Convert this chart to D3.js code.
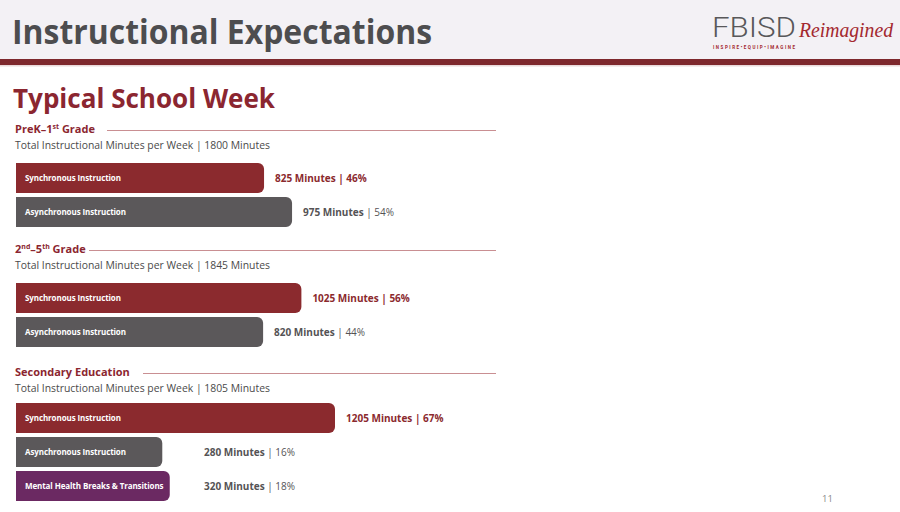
<!DOCTYPE html>
<html>
<head>
<meta charset="utf-8">
<script src="https://cdn.jsdelivr.net/npm/d3@7"></script>
<style>
  html, body { margin: 0; padding: 0; background: #fff; }
  svg { display: block; }
</style>
</head>
<body>
<svg id="slide" width="900" height="512"></svg>
<script>
// Chart data
const groupHeadings = [
  [['PreK–1', ''], ['st', 'sup'], [' Grade', '']],
  [['2', ''], ['nd', 'sup'], ['–5', ''], ['th', 'sup'], [' Grade', '']],
  [['Secondary Education', '']]
];
const groupTotals = [1800, 1845, 1805];
const categories = ['Synchronous Instruction', 'Asynchronous Instruction', 'Mental Health Breaks & Transitions'];
const minutes = [
  [825, 975],
  [1025, 820],
  [1205, 280, 320]
];
const percents = [
  [46, 54],
  [56, 44],
  [67, 16, 18]
];

// Layout
const red = '#8b2a2e';
const grey = '#5b585a';
const purple = '#6b2962';
const barColors = [red, grey, purple];
const valueColors = [red, '#555355', '#555355'];
const groupTop = [133, 253, 376];      // heading baseline
const barsTop = [163, 283, 403];
const headingLineStart = [107, 89, 143];
const valueMinX = [0, 0, 204];

const svg = d3.select('#slide');

// Header band
svg.append('rect').attr('x', 0).attr('y', 0).attr('width', 900).attr('height', 59).attr('fill', '#f3f1f5');
svg.append('rect').attr('x', 0).attr('y', 59).attr('width', 900).attr('height', 6).attr('fill', '#7e282d');
svg.append('rect').attr('x', 0).attr('y', 65).attr('width', 900).attr('height', 1.5).attr('fill', '#e9d9da');

svg.append('text')
  .attr('x', 12).attr('y', 44)
  .attr('font-family', 'Open Sans').attr('font-weight', 700).attr('font-size', 34)
  .attr('textLength', 420).attr('lengthAdjust', 'spacingAndGlyphs')
  .attr('fill', '#4d4d4f')
  .text('Instructional Expectations');

// Logo
const logo = svg.append('g');
logo.append('text')
  .attr('x', 712).attr('y', 37)
  .attr('font-family', 'Roboto').attr('font-weight', 300).attr('font-size', 27)
  .attr('textLength', 84).attr('lengthAdjust', 'spacingAndGlyphs')
  .attr('fill', '#58585a')
  .text('FBISD');
logo.append('text')
  .attr('x', 799).attr('y', 37)
  .attr('font-family', 'Liberation Serif').attr('font-style', 'italic').attr('font-size', 21)
  .attr('textLength', 94).attr('lengthAdjust', 'spacingAndGlyphs')
  .attr('fill', '#a3282f')
  .text('Reimagined');
logo.append('text')
  .attr('x', 713).attr('y', 49)
  .attr('font-family', 'Roboto').attr('font-weight', 700).attr('font-size', 4.5)
  .attr('textLength', 82).attr('lengthAdjust', 'spacing')
  .attr('fill', '#a3282f')
  .text('INSPIRE•EQUIP•IMAGINE');

svg.append('text')
  .attr('x', 13).attr('y', 108)
  .attr('font-family', 'Open Sans').attr('font-weight', 700).attr('font-size', 26)
  .attr('textLength', 262).attr('lengthAdjust', 'spacingAndGlyphs')
  .attr('fill', '#8b2630')
  .text('Typical School Week');

// Scales
const x = d3.scaleLinear().domain([0, 1205]).range([110, 335]);
const barLeft = 16;
const bandHeight = 34;
const barHeight = 30;
const radius = 6;

function barPath(x0, y0, x1, h, r) {
  const p = d3.path();
  p.moveTo(x0, y0);
  p.lineTo(x1 - r, y0);
  p.arcTo(x1, y0, x1, y0 + r, r);
  p.lineTo(x1, y0 + h - r);
  p.arcTo(x1, y0 + h, x1 - r, y0 + h, r);
  p.lineTo(x0, y0 + h);
  p.closePath();
  return p.toString();
}

groupHeadings.forEach((heading, g) => {
  const grp = svg.append('g');

  // Group heading with superscripts
  const h = grp.append('text')
    .attr('x', 15).attr('y', groupTop[g])
    .attr('font-family', 'Open Sans').attr('font-weight', 700).attr('font-size', 11)
    .attr('fill', '#8b2630');
  let shift = 0;
  heading.forEach(([t, kind]) => {
    const target = kind === 'sup' ? -4 : 0;
    const ts = h.append('tspan').attr('dy', target - shift).text(t);
    if (kind === 'sup') ts.attr('font-size', 7);
    shift = target;
  });

  grp.append('line')
    .attr('x1', headingLineStart[g]).attr('x2', 496)
    .attr('y1', groupTop[g] - 2.5).attr('y2', groupTop[g] - 2.5)
    .attr('stroke', '#c98f92').attr('stroke-width', 1);

  grp.append('text')
    .attr('x', 15).attr('y', groupTop[g] + 16)
    .attr('font-family', 'Open Sans').attr('font-size', 10)
    .attr('textLength', 255).attr('lengthAdjust', 'spacingAndGlyphs')
    .attr('fill', '#4a4a4a')
    .text(`Total Instructional Minutes per Week | ${groupTotals[g]} Minutes`);

  const rows = minutes[g].map((v, i) => ({ v, p: percents[g][i], i, cat: categories[i] }));
  const y = d3.scaleBand()
    .domain(rows.map((d) => d.i))
    .range([barsTop[g], barsTop[g] + bandHeight * rows.length]);

  const row = grp.selectAll('g.row').data(rows).enter().append('g').attr('class', 'row');

  row.append('path')
    .attr('d', (d) => barPath(barLeft, y(d.i), x(d.v), barHeight, radius))
    .attr('fill', (d) => barColors[d.i]);

  row.append('text')
    .attr('x', 25).attr('y', (d) => y(d.i) + barHeight / 2 + 3)
    .attr('font-family', 'Open Sans').attr('font-weight', 700).attr('font-size', 8)
    .attr('letter-spacing', -0.1)
    .attr('fill', '#fff')
    .text((d) => d.cat);

  const val = row.append('text')
    .attr('x', (d) => Math.max(x(d.v) + 11, valueMinX[g]))
    .attr('y', (d) => y(d.i) + barHeight / 2 + 4)
    .attr('font-family', 'Open Sans').attr('font-size', 10)
    .attr('fill', (d) => valueColors[d.i]);
  val.append('tspan')
    .attr('font-weight', 700)
    .text((d) => `${d.v} Minutes `);
  val.append('tspan')
    .attr('font-weight', (d) => (d.i === 0 ? 700 : 400))
    .text((d) => `| ${d.p}%`);
});

// Page number
svg.append('text')
  .attr('x', 822).attr('y', 502)
  .attr('font-family', 'Open Sans').attr('font-size', 9.5)
  .attr('fill', '#8a8a8a')
  .text('11');
</script>
</body>
</html>
